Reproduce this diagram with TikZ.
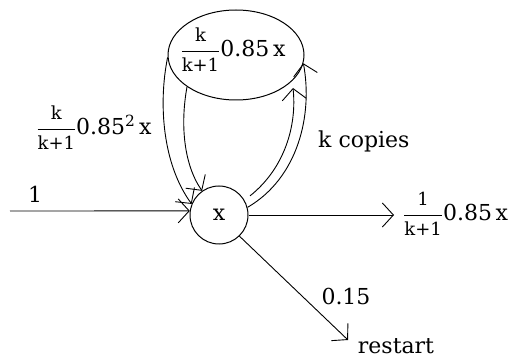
\RequirePackage{fix-cm}
\documentclass[tikz,border=0pt]{standalone}
\usepackage{amsmath}
\usepackage{fontspec}
\setmainfont{DejaVu Serif}
\usetikzlibrary{arrows.meta,shapes.geometric}
\newcommand\frpart[1]{\text{\fontsize{18}{21}\selectfont #1}}
\newcommand\myfr[2]{\ensuremath{\dfrac{\frpart{#1}}{\frpart{#2}}}}
\begin{document}
\begin{tikzpicture}[x=1pt,y=-1pt,
  every node/.style={font=\fontsize{22}{26}\selectfont, inner sep=0pt},
  lab/.style={},
  conn/.style={line width=0.9pt, -{Straight Barb[length=11pt,width=24pt,line width=0.9pt]}},
  bubble/.style={draw, line width=1pt}]
\useasboundingbox (0,0) rectangle (517,358);
% nodes
\node[bubble, circle, minimum size=58pt] (x) at (219,215) {x};
\node[bubble, ellipse, minimum width=136pt, minimum height=90pt] (e) at (236,55) {};
\node[lab] (et) at (233,50) {\myfr{k}{k+1}0.85\,x};
\node[lab] (ll) at (94,128) {\myfr{k}{k+1}0.85\textsuperscript{2}\,x};
\node[lab, anchor=base west] (kc) at (318,148) {k copies};
\node[lab, anchor=base] (one) at (35,203) {1};
\node[lab, anchor=west] (ol) at (403,214) {\myfr{1}{k+1}0.85\,x};
\node[lab, anchor=base] (p15) at (346,305) {0.15};
\node[lab, anchor=base] (rs) at (396,353) {restart};
% free ends
\coordinate (in) at (10,211);
\coordinate (out) at (394,215);
\coordinate (rst) at (348,340);
\coordinate (ir) at (293,88);
% connectors
\draw[conn] (in) -- (x.172);
\draw[conn] (x.east) -- (out);
\draw[conn] (x.-46) -- (rst);
\draw[conn] (e.182) .. controls (158,105) and (163,165) .. (x.158);
\draw[conn] (e.213) .. controls (180,125) and (184,165) .. (x.125);
\draw[conn] (x.15) .. controls (298,178) and (313,115) .. (e.353);
\draw[conn, shorten <=7pt] (x.30) .. controls (285,168) and (297,125) .. (ir);
\end{tikzpicture}
\end{document}
